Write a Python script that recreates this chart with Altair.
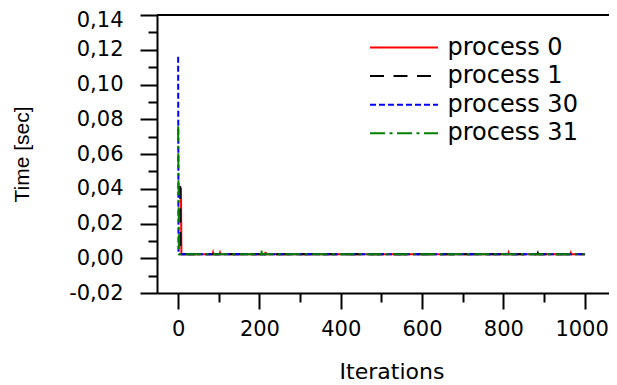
import altair as alt
import pandas as pd

PROCESSES = ["process 0", "process 1", "process 30", "process 31"]
COLORS = ["#ff0000", "#000000", "#0000ff", "#008000"]
DASHES = [[1, 0], [14, 9.5], [6, 3], [15, 4.5, 3, 4.5]]

Y_TICKS = [-0.02, -0.01, 0.0, 0.01, 0.02, 0.03, 0.04, 0.05, 0.06, 0.07,
           0.08, 0.09, 0.10, 0.11, 0.12, 0.13, 0.14]
X_TICKS = [0, 100, 200, 300, 400, 500, 600, 700, 800, 900, 1000]

# process 0 (red, solid)
p0_iter = [0, 7, 8, 40, 85, 86, 87, 102, 103, 104, 160, 214, 215, 216, 300,
           400, 500, 600, 700, 812, 813, 814, 900, 965, 966, 967, 1000]
p0_val = [0.040, 0.040, 0.0023, 0.0023, 0.0023, 0.0032, 0.0023, 0.0023, 0.0031,
          0.0023, 0.0023, 0.0023, 0.0036, 0.0023, 0.0023, 0.0023, 0.0023, 0.0023,
          0.0023, 0.0023, 0.0031, 0.0023, 0.0023, 0.0023, 0.0030, 0.0023, 0.0023]

# process 1 (black, dashed)
p1_iter = [0, 5, 6, 100, 200, 300, 400, 500, 600, 700, 800, 884, 885, 886, 1000]
p1_val = [0.041, 0.041, 0.0023, 0.0023, 0.0023, 0.0023, 0.0023, 0.0023, 0.0023,
          0.0023, 0.0023, 0.0023, 0.0030, 0.0023, 0.0023]

# process 30 (blue, short dash)
p30_iter = [0, 1, 100, 200, 300, 400, 500, 600, 700, 800, 900, 1000]
p30_val = [0.116, 0.0023, 0.0023, 0.0023, 0.0023, 0.0023, 0.0023, 0.0023,
           0.0023, 0.0023, 0.0023, 0.0023]

# process 31 (green, dash-dot)
p31_iter = [0, 1, 2, 100, 204, 205, 206, 300, 400, 500, 600, 700, 800, 900, 1000]
p31_val = [0.076, 0.040, 0.0023, 0.0023, 0.0023, 0.0050, 0.0023, 0.0023, 0.0023,
           0.0023, 0.0023, 0.0023, 0.0023, 0.0023, 0.0023]

frames = []
for name, it, va in [("process 0", p0_iter, p0_val), ("process 1", p1_iter, p1_val),
                     ("process 30", p30_iter, p30_val), ("process 31", p31_iter, p31_val)]:
    frames.append(pd.DataFrame({"iteration": it, "time": va, "process": name}))
df = pd.concat(frames, ignore_index=True)
df["order"] = range(len(df))

legend = alt.Legend(
    title=None, orient="none", legendX=234.5, legendY=20,
    symbolType="M-3,0H3", symbolSize=514, symbolStrokeWidth=2,
    labelFont="DejaVu Sans", labelFontSize=24, labelColor="black",
    labelOffset=31, rowPadding=3.6, padding=0, labelLimit=300,
)

X_MAJOR = "datum.value % 200 === 0"
Y_MAJOR = "abs(round(datum.value*100)) % 2 === 0"

x_axis = alt.Axis(
    values=X_TICKS, tickCount=50, grid=False,
    labelExpr=X_MAJOR + " ? format(datum.value, 'd') : ''",
    tickSize={"condition": {"test": X_MAJOR, "value": 16}, "value": 9},
    labelFontSize={"condition": {"test": X_MAJOR, "value": 21}, "value": 1},
    labelOffset={"condition": {"test": "datum.value === 1000", "value": -3}, "value": 0},
    labelPadding=9, labelFlush=False, labelOverlap=False,
    title="Iterations", titleX=234.5, titleY=85, titleAlign="center",
    titleBaseline="alphabetic", titleFont="DejaVu Sans", titleFontSize=22,
)

y_axis = alt.Axis(
    values=Y_TICKS, tickCount=50, grid=False,
    labelExpr=Y_MAJOR + " ? replace(replace(format(datum.value, '.2f'), '.', ','), '\u2212', '-') : ''",
    tickSize={"condition": {"test": Y_MAJOR, "value": 17}, "value": 9},
    labelFontSize={"condition": {"test": Y_MAJOR, "value": 21}, "value": 1},
    labelOffset={"condition": {"test": "datum.value > 0.135", "value": 5}, "value": 0},
    labelPadding=17, labelFlush=False, labelOverlap=False,
    title="Time [sec]", titleX=-129, titleY=139, titleAngle=270, titleAlign="center",
    titleBaseline="alphabetic", titleFont="Liberation Sans", titleFontSize=21,
)

lines = alt.Chart(df).mark_line(strokeWidth=2, clip=True).encode(
    x=alt.X("iteration:Q", scale=alt.Scale(domain=[-52, 1060], nice=False, zero=False), axis=x_axis),
    y=alt.Y("time:Q", scale=alt.Scale(domain=[-0.02, 0.14], nice=False, zero=False), axis=y_axis),
    color=alt.Color("process:N", scale=alt.Scale(domain=PROCESSES, range=COLORS), legend=legend),
    strokeDash=alt.StrokeDash("process:N", scale=alt.Scale(domain=PROCESSES, range=DASHES), legend=legend),
    order="order:Q",
)

top_rule = alt.Chart(pd.DataFrame({"v": [0]})).mark_rule(color="black", strokeWidth=2).encode(
    y=alt.datum(0.14)
)

chart = alt.layer(lines, top_rule).properties(
    width=452, height=278,
    autosize=alt.AutoSizeParams(type="none"),
    padding={"left": 149, "top": 7, "right": 0, "bottom": 92},
).configure_view(strokeWidth=0).configure_axis(
    labelFont="DejaVu Sans", labelFontSize=22, labelColor="black",
    titleColor="black", titleFontWeight="normal",
    domainColor="black", domainWidth=2, tickColor="black", tickWidth=2,
)

chart.save("out.html", embed_options={"renderer": "svg", "actions": False})
